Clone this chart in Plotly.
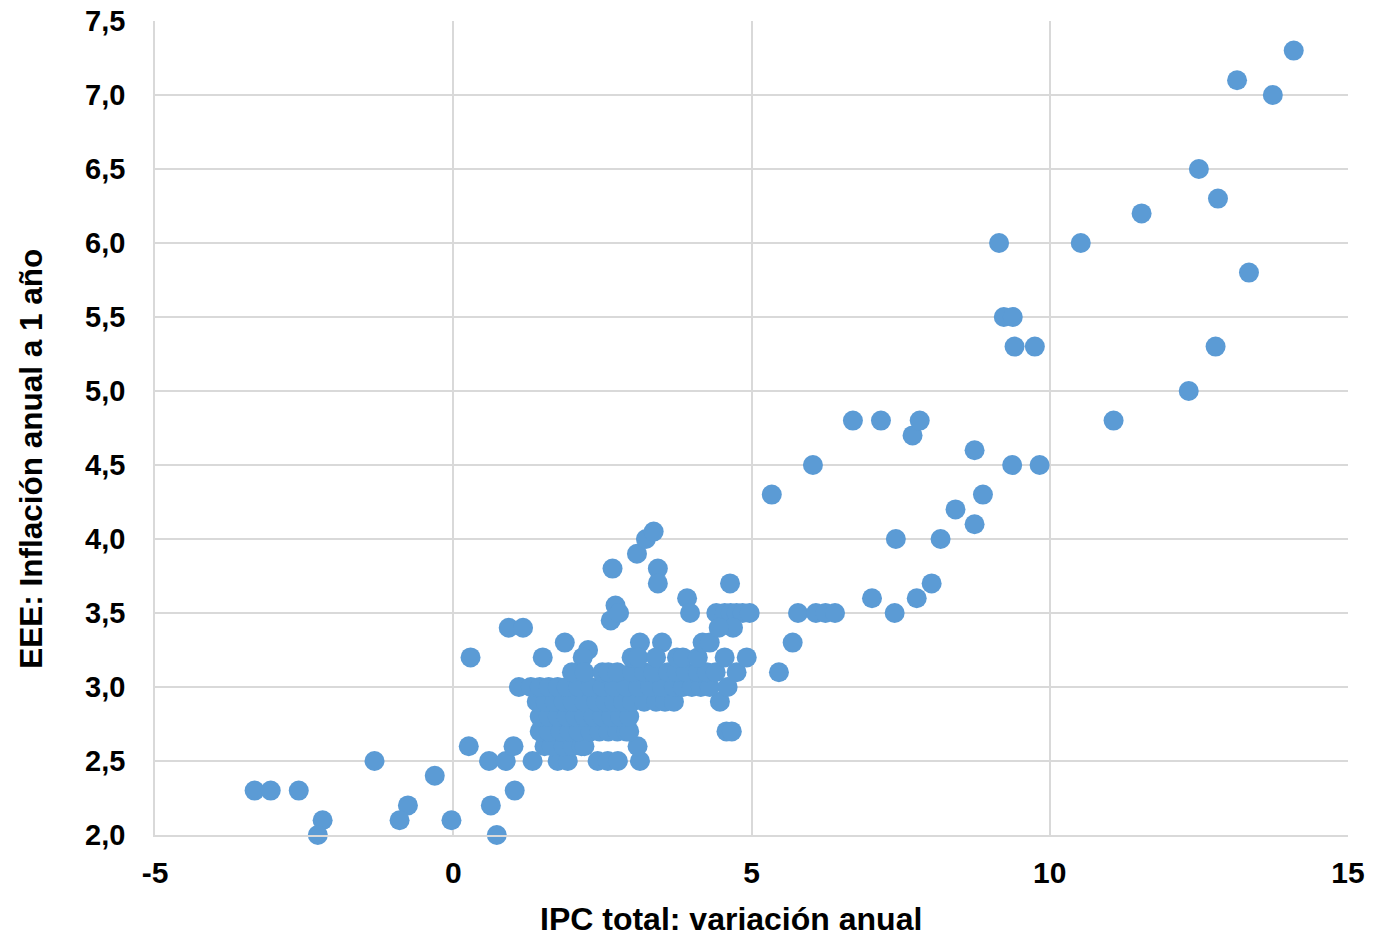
import plotly.graph_objects as go

# IPC total: variación anual (x) and EEE: inflación anual a 1 año (y)
ipc = [
    -3.33, -3.06, -2.59, -2.19, -2.27, -1.32, -0.76, -0.90, -0.31, -0.03,
    0.29, 0.26, 0.60, 0.63, 0.73, 0.88, 0.93, 1.17, 1.01, 1.03,
    1.10, 1.33, 1.50, 1.87, 2.67, 3.08, 3.23, 3.36, 3.43, 3.43,
    2.72, 2.64, 2.78, 3.92, 3.97, 4.64, 4.41, 4.55, 4.65, 4.75,
    4.85, 4.97, 3.13, 3.50, 2.26, 2.17, 5.78, 6.08, 6.24, 6.40,
    5.69, 5.46, 5.34, 6.03, 6.70, 7.17, 7.70, 7.82, 7.02, 7.40,
    7.77, 8.02, 7.42, 8.17, 8.42, 8.74, 8.88, 8.74, 9.37, 9.83,
    9.15, 9.23, 9.38, 9.41, 9.75, 10.52, 11.07, 11.54, 12.33, 12.50,
    12.82, 12.78, 13.14, 13.34, 13.74, 14.09,
    # dense cluster
    1.75, 1.92, 2.42, 2.59, 2.76, 3.13,
    1.53, 1.65, 1.85, 2.00, 2.15, 2.20, 3.09,
    1.45, 1.60, 1.80, 1.95, 2.10, 2.30, 2.45, 2.60, 2.75, 2.90, 2.95, 4.58, 4.67,
    1.45, 1.60, 1.75, 1.90, 2.05, 2.20, 2.35, 2.50, 2.65, 2.80, 2.95,
    1.40, 1.55, 1.70, 1.85, 2.00, 2.20, 2.40, 2.55, 2.70, 2.85, 3.00, 3.20, 3.40, 3.55, 3.70, 4.47,
    1.30, 1.45, 1.60, 1.75, 1.90, 2.10, 2.30, 2.50, 2.70, 2.90, 3.10, 3.30, 3.50, 3.70, 3.85, 4.00, 4.15, 4.30, 4.60,
    1.99, 2.20, 2.50, 2.60, 2.75, 3.00, 3.20, 3.35, 3.60, 3.75, 3.90, 4.10, 4.25, 4.40, 4.75,
    2.99, 3.10, 3.40, 3.75, 3.85, 4.10, 4.55, 4.92,
    4.18, 4.30, 4.69, 4.45,
]
eee = [
    2.3, 2.3, 2.3, 2.1, 2.0, 2.5, 2.2, 2.1, 2.4, 2.1,
    3.2, 2.6, 2.5, 2.2, 2.0, 2.5, 3.4, 3.4, 2.6, 2.3,
    3.0, 2.5, 3.2, 3.3, 3.8, 3.9, 4.0, 4.05, 3.8, 3.7,
    3.55, 3.45, 3.5, 3.6, 3.5, 3.7, 3.5, 3.5, 3.5, 3.5,
    3.5, 3.5, 3.3, 3.3, 3.25, 3.2, 3.5, 3.5, 3.5, 3.5,
    3.3, 3.1, 4.3, 4.5, 4.8, 4.8, 4.7, 4.8, 3.6, 3.5,
    3.6, 3.7, 4.0, 4.0, 4.2, 4.1, 4.3, 4.6, 4.5, 4.5,
    6.0, 5.5, 5.5, 5.3, 5.3, 6.0, 4.8, 6.2, 5.0, 6.5,
    6.3, 5.3, 7.1, 5.8, 7.0, 7.3,
    # dense cluster
    2.5, 2.5, 2.5, 2.5, 2.5, 2.5,
    2.6, 2.6, 2.6, 2.6, 2.6, 2.6, 2.6,
    2.7, 2.7, 2.7, 2.7, 2.7, 2.7, 2.7, 2.7, 2.7, 2.7, 2.7, 2.7, 2.7,
    2.8, 2.8, 2.8, 2.8, 2.8, 2.8, 2.8, 2.8, 2.8, 2.8, 2.8,
    2.9, 2.9, 2.9, 2.9, 2.9, 2.9, 2.9, 2.9, 2.9, 2.9, 2.9, 2.9, 2.9, 2.9, 2.9, 2.9,
    3.0, 3.0, 3.0, 3.0, 3.0, 3.0, 3.0, 3.0, 3.0, 3.0, 3.0, 3.0, 3.0, 3.0, 3.0, 3.0, 3.0, 3.0, 3.0,
    3.1, 3.1, 3.1, 3.1, 3.1, 3.1, 3.1, 3.1, 3.1, 3.1, 3.1, 3.1, 3.1, 3.1, 3.1,
    3.2, 3.2, 3.2, 3.2, 3.2, 3.2, 3.2, 3.2,
    3.3, 3.3, 3.4, 3.4,
]

x_tickvals = [-5, 0, 5, 10, 15]
x_ticktext = ["-5", "0", "5", "10", "15"]
x_title = "IPC total: variación anual"
y_title = "EEE: Inflación anual a 1 año"

fig = go.Figure(go.Scatter(
    x=ipc, y=eee, mode="markers",
    marker=dict(size=20, color="#5B9BD5", line=dict(width=0)),
    cliponaxis=False,
))

font_family = "Liberation Sans, Arial, sans-serif"
fig.update_layout(
    width=1374, height=939,
    margin=dict(l=147, r=34, t=13, b=112, autoexpand=False),
    paper_bgcolor="white", plot_bgcolor="white",
    separators=", ",
    showlegend=False,
    font=dict(family=font_family, color="black"),
    annotations=[
        dict(text=x_title, xref="paper", yref="paper", x=0.483, y=-0.103,
             xanchor="center", yanchor="middle", showarrow=False,
             font=dict(size=32, family=font_family, color="black", weight="bold")),
        dict(text=y_title, xref="paper", yref="paper", x=-0.104, y=0.462,
             xanchor="center", yanchor="middle", showarrow=False, textangle=-90,
             font=dict(size=31.5, family=font_family, color="black", weight="bold")),
    ],
)
fig.update_xaxes(
    range=[-5, 15], tickvals=x_tickvals, ticktext=x_ticktext,
    showgrid=True, gridcolor="#D9D9D9", gridwidth=1.5,
    zeroline=True, zerolinecolor="#D9D9D9", zerolinewidth=1.5,
    showline=True, linecolor="#D9D9D9", linewidth=1.5,
    tickfont=dict(size=30, family=font_family, color="black", weight="bold"),
    ticklabelstandoff=10, ticklabeloverflow="allow",
    automargin=False,
)
fig.update_yaxes(
    range=[2.0, 7.5], dtick=0.5, tick0=2.0, tickformat=".1f",
    showgrid=True, gridcolor="#D9D9D9", gridwidth=1.5,
    zeroline=False,
    showline=True, linecolor="#D9D9D9", linewidth=1.5,
    tickfont=dict(size=29, family=font_family, color="black", weight="bold"),
    ticklabelstandoff=22, ticklabeloverflow="allow",
    automargin=False,
)

fig.write_html("out.html")
